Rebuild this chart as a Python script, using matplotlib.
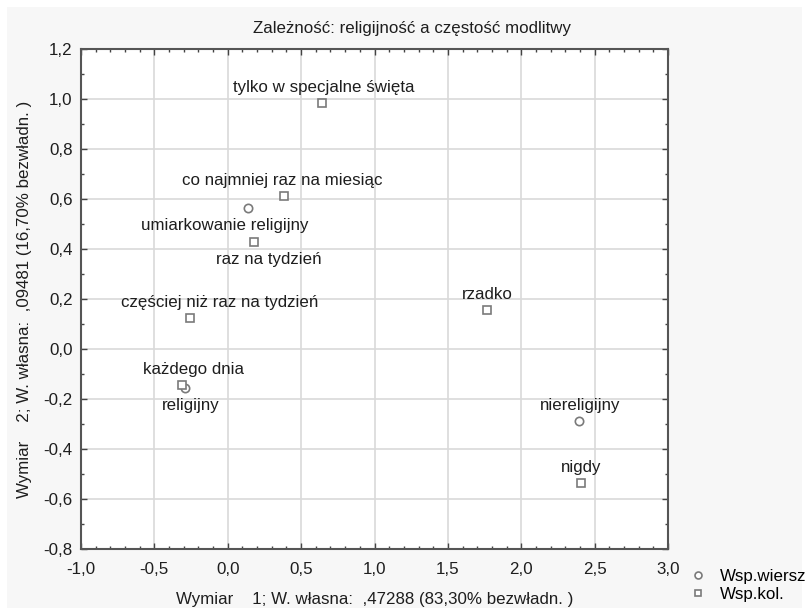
import numpy as np
import matplotlib.pyplot as plt
from matplotlib.ticker import MultipleLocator, FuncFormatter
from matplotlib.patches import Rectangle

plt.rcParams['font.family'] = ['Liberation Sans', 'DejaVu Sans']

# row coordinates (religiosity)
row_names = ['umiarkowanie religijny', 'religijny', 'niereligijny']
row_x = [0.138, -0.291, 2.394]
row_y = [0.564, -0.156, -0.288]
row_pos = ['below', 'below', 'above']

# column coordinates (prayer frequency)
col_names = ['tylko w specjalne święta', 'co najmniej raz na miesiąc', 'raz na tydzień',
             'częściej niż raz na tydzień', 'każdego dnia', 'rzadko', 'nigdy']
col_x = [0.642, 0.383, 0.179, -0.257, -0.312, 1.767, 2.407]
col_y = [0.984, 0.612, 0.428, 0.124, -0.144, 0.156, -0.536]
col_pos = ['above', 'above', 'below', 'above', 'above', 'above', 'above']

# small label shifts in points (dx) so text sits like in the original
col_dx = [1, -1, 11, 21, 8, 0, 0]
row_dx = [-17, 4, 1]

FS = 12.2
TXT = '#1e1e1e'

fig = plt.figure(figsize=(8.07, 6.09), dpi=100, facecolor='white')
fig.patches.append(Rectangle((7 / 807, 1 / 609), 795 / 807, 601 / 609, transform=fig.transFigure,
                             facecolor='#f7f7f7', edgecolor='none', zorder=-10))
ax = fig.add_axes([81 / 807, 60 / 609, 587 / 807, 500 / 609])
ax.set_facecolor('white')

mk = dict(markerfacecolor='white', markeredgecolor='#7a7a7a', markeredgewidth=1.2,
          markersize=6, linestyle='none', zorder=3)
ax.plot(row_x, row_y, marker='o', **mk)
ax.plot(col_x, col_y, marker='s', **mk)


def label(names, xs, ys, pos, dxs):
    for n, x, y, p, dx in zip(names, xs, ys, pos, dxs):
        dy = 6 if p == 'above' else -7
        va = 'bottom' if p == 'above' else 'top'
        ax.annotate(n, (x, y), xytext=(dx, dy), textcoords='offset points',
                    ha='center', va=va, fontsize=FS, color=TXT)


label(col_names, col_x, col_y, col_pos, col_dx)
label(row_names, row_x, row_y, row_pos, row_dx)

ax.set_xlim(-1.0, 3.0)
ax.set_ylim(-0.8, 1.2)
ax.xaxis.set_major_locator(MultipleLocator(0.5))
ax.xaxis.set_minor_locator(MultipleLocator(0.1))
ax.yaxis.set_major_locator(MultipleLocator(0.2))
ax.yaxis.set_minor_locator(MultipleLocator(0.1))
comma = FuncFormatter(lambda v, p: f'{v:.1f}'.replace('.', ',').replace('-0,0', '0,0'))
ax.xaxis.set_major_formatter(comma)
ax.yaxis.set_major_formatter(comma)
ax.tick_params(which='both', direction='in', top=True, right=True, colors='#444444',
               labelcolor=TXT, labelsize=FS)
ax.tick_params(which='major', length=4, width=1)
ax.tick_params(which='minor', length=2, width=1)
ax.tick_params(axis='x', pad=9)
ax.tick_params(axis='y', pad=6)
ax.grid(True, which='major', color='#d9d9d9', linewidth=1.2)
ax.set_axisbelow(True)
for s in ax.spines.values():
    s.set_color('#555555')
    s.set_linewidth(1.5)

ax.set_xlabel('Wymiar    1; W. własna:  ,47288 (83,30% bezwładn. )', fontsize=FS,
              color=TXT, labelpad=11)
ax.set_ylabel('Wymiar    2; W. własna:  ,09481 (16,70% bezwładn. )', fontsize=FS,
              color=TXT, labelpad=8)
fig.text(0.51, 0.953, 'Zależność: religijność a częstość modlitwy', ha='center',
         va='center', fontsize=FS, color=TXT)

# legend outside, bottom right
ax.legend(['Wsp.wiersz', 'Wsp.kol.'], loc='upper left', bbox_to_anchor=(1.037, -0.04),
          frameon=False, fontsize=FS, handlelength=1.0, handletextpad=0.8,
          labelspacing=0.15, borderaxespad=0, borderpad=0)
for h in ax.get_legend().legend_handles:
    h.set_markersize(5)

fig.savefig('out.png', dpi=100, facecolor=fig.get_facecolor())
